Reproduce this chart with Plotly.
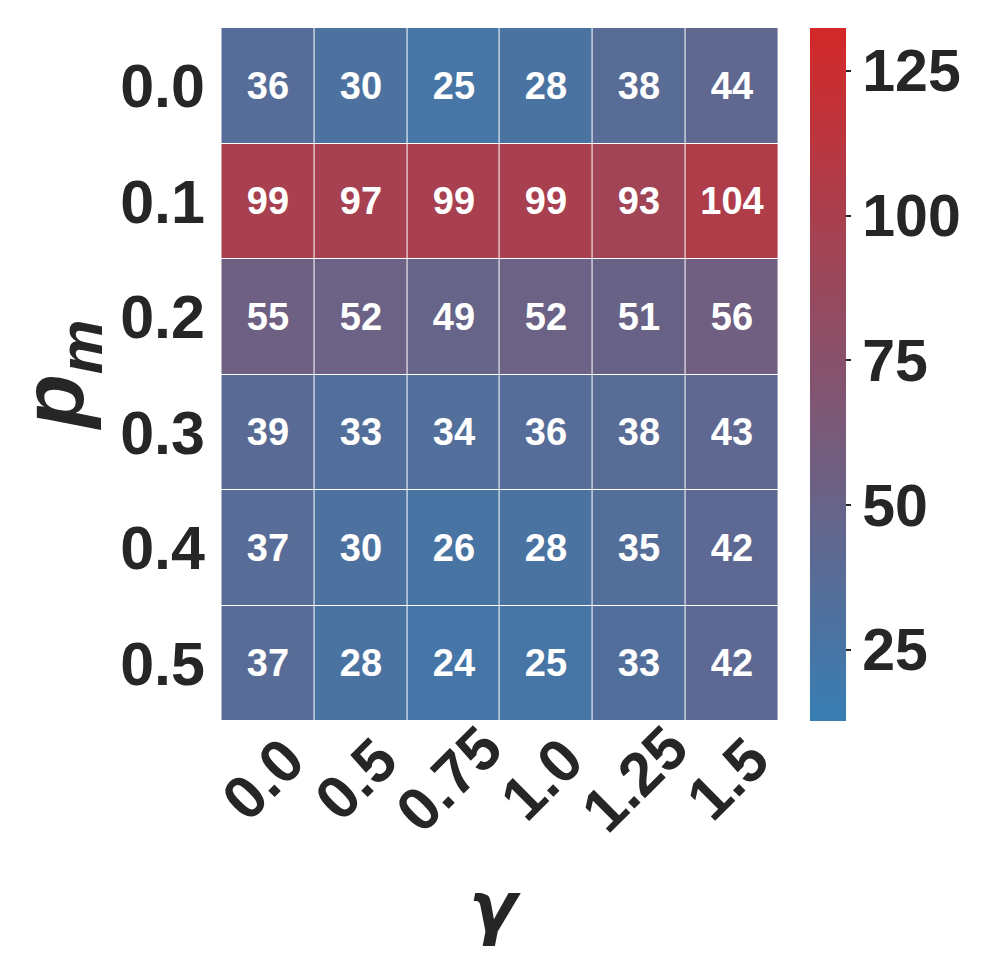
import plotly.graph_objects as go

gamma_labels = ["0.0", "0.5", "0.75", "1.0", "1.25", "1.5"]
pm_labels = ["0.0", "0.1", "0.2", "0.3", "0.4", "0.5"]
values = [
    [36, 30, 25, 28, 38, 44],
    [99, 97, 99, 99, 93, 104],
    [55, 52, 49, 52, 51, 56],
    [39, 33, 34, 36, 38, 43],
    [37, 30, 26, 28, 35, 42],
    [37, 28, 24, 25, 33, 42],
]
zmin, zmax = 12.7, 132.4
cbar_ticks = [25, 50, 75, 100, 125]

FONT = "Liberation Sans, Arial, sans-serif"
DARK = "#262626"

W, H = 991, 977
ML, MR, MT, MB = 198, 215, 20, 264

fig = go.Figure(go.Heatmap(
    z=values, x=gamma_labels, y=pm_labels,
    zmin=zmin, zmax=zmax,
    colorscale=[[0, "#377eb4"], [1, "#d42828"]],
    xgap=1, ygap=1,
    text=[[str(v) for v in row] for row in values],
    texttemplate="%{text}",
    textfont=dict(family=FONT, size=38, color="white", weight="bold"),
    hoverinfo="skip",
    colorbar=dict(
        x=1 + 25 / 558, xanchor="left", xpad=0,
        y=0.5, yanchor="middle", len=1.0, ypad=0,
        thickness=36, outlinewidth=0,
        tickvals=cbar_ticks, ticks="outside", ticklen=5, tickwidth=2,
        tickcolor=DARK,
        tickfont=dict(family=FONT, size=59, color=DARK, weight="bold"),
    ),
))

annotations = []
for i, g in enumerate(gamma_labels):
    annotations.append(dict(
        x=i, xref="x", y=-0.083, yref="paper", text=g, showarrow=False,
        textangle=-45, xanchor="center", yanchor="middle", xshift=-5,
        font=dict(family=FONT, size=61, color=DARK, weight="bold"),
    ))
annotations.append(dict(
    x=0.5, xref="paper", y=-0.27, yref="paper", text="<i>γ</i>", showarrow=False,
    xanchor="center", yanchor="middle",
    font=dict(family="DejaVu Sans", size=70, color=DARK, weight="bold"),
))
annotations.append(dict(
    x=-0.255, xref="paper", y=0.5, yref="paper", text="<i>p<sub>m</sub></i>", showarrow=False,
    textangle=-90, xanchor="center", yanchor="middle",
    font=dict(family=FONT, size=88, color=DARK, weight="bold"),
))

fig.update_layout(
    width=W, height=H,
    margin=dict(l=ML, r=MR, t=MT, b=MB, autoexpand=False),
    paper_bgcolor="white", plot_bgcolor="white",
    annotations=annotations,
    xaxis=dict(type="category", showticklabels=False, ticks="", showgrid=False,
               zeroline=False, automargin=False),
    yaxis=dict(type="category", autorange="reversed", ticks="",
               showgrid=False, zeroline=False, automargin=False,
               tickfont=dict(family=FONT, size=61, color=DARK, weight="bold")),
)

fig.write_html("out.html")
